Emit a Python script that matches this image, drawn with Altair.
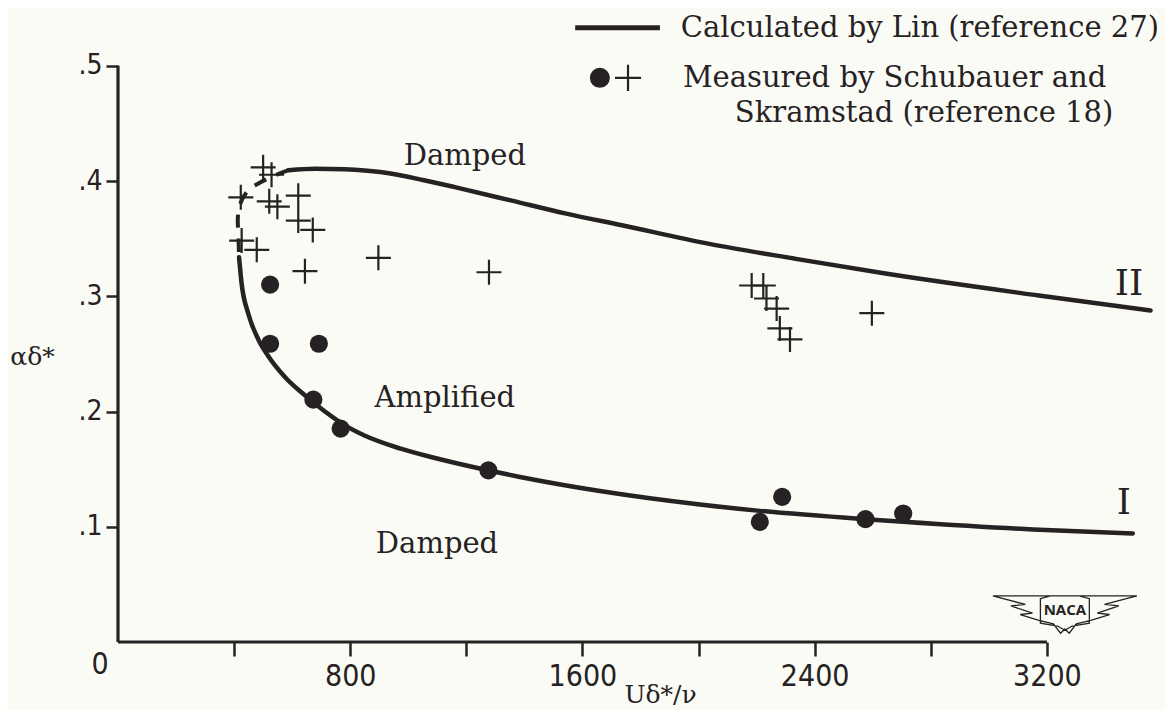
import altair as alt
import pandas as pd

INK = "#262223"
BG = "#fbfbf6"
SERIF = "DejaVu Serif"
NUMF = "DejaVu Sans Condensed, DejaVu Sans, sans-serif"

# ---- data ----
# Curve II (upper neutral branch, Lin)
c2_x = [587, 680, 780, 903, 1050, 1164, 1357, 1540, 1740, 2037, 2335, 2649, 3172, 3557]
c2_y = [0.4095, 0.4108, 0.4102, 0.4078, 0.4010, 0.3945, 0.3830, 0.3720, 0.3614, 0.3455, 0.3325, 0.3195,
        0.3007, 0.2877]
# dashed connection between the branches
cd_x = [587, 530, 482, 448, 424, 413, 415, 417]
cd_y = [0.4095, 0.4038, 0.3977, 0.3917, 0.3821, 0.3692, 0.3519, 0.3339]
# Curve I (lower neutral branch)
c1_x = [417, 426, 449, 483, 518, 575, 644, 713, 782, 851, 971, 1099, 1274, 1385, 1660, 2005, 2211, 2575, 2705,
        3152, 3496]
c1_y = [0.3339, 0.3108, 0.2848, 0.2628, 0.2480, 0.2300, 0.2140, 0.2000, 0.1880, 0.1790, 0.1680, 0.1592, 0.1490,
        0.1432, 0.1310, 0.1193, 0.1138, 0.1066, 0.1044, 0.0977, 0.0942]
# measured: filled circles
dot_x = [524, 524, 692, 673, 767, 1276, 2211, 2288, 2575, 2705]
dot_y = [0.3102, 0.2588, 0.2588, 0.2103, 0.1852, 0.1490, 0.1042, 0.1259, 0.1066, 0.1115]
# measured: crosses
cross_x = [500, 529, 423, 521, 549, 621, 621, 671, 426, 478, 644, 897, 1278,
           2183, 2223, 2234, 2269, 2280, 2315, 2597]
cross_y = [0.4119, 0.4055, 0.3859, 0.3824, 0.3778, 0.3873, 0.3657, 0.3576, 0.3484, 0.3403, 0.3218, 0.3334, 0.3209,
           0.3094, 0.3094, 0.2981, 0.2894, 0.2721, 0.2626, 0.2854]

x_ticks = [400, 800, 1200, 1600, 2000, 2400, 2800, 3200]
y_ticks = [0.1, 0.2, 0.3, 0.4, 0.5]

# annotations
ann_text = ["Damped", "Amplified", "Damped"]
ann_x = [1195, 1126, 1099]
ann_y = [0.4220, 0.2114, 0.0849]
rom_text = ["I", "II"]
rom_x = [3465, 3483]
rom_y = [0.1205, 0.3110]

# legend
leg_line_x = [1575]
leg_line_x2 = [1867]
leg_line_y = [0.533]
leg_text = ["Calculated by Lin (reference 27)", "Measured by Schubauer and", "Skramstad (reference 18)"]
leg_text_x = [1939, 1946, 2125]
leg_text_y = [0.533, 0.4896, 0.4593]
leg_dot_x, leg_dot_y = [1660], [0.4896]
leg_cross_x, leg_cross_y = [1757], [0.4896]

logo_x, logo_y = [3262], [0.0251]
logo_text_y = [0.0277]

# ---- scales / axes ----
xs = alt.Scale(domain=[0, 3600], nice=False, zero=False)
ys = alt.Scale(domain=[0, 0.545], nice=False, zero=False)

xaxis = alt.Axis(
    values=x_ticks, format="d",
    labelExpr="datum.value % 800 === 0 ? datum.label : ''",
    domain=False, grid=False, tickSize=14, tickWidth=2.5, tickColor=INK,
    labelFont=NUMF, labelFontSize=30, labelColor=INK, labelPadding=5,
    title="Uδ*/ν", titleFont=SERIF, titleFontSize=25, titleFontWeight="normal",
    titleColor=INK, titleX=542, titleY=60, titleBaseline="alphabetic", titleAlign="center",
)
yaxis = alt.Axis(
    values=y_ticks, format=".1f",
    labelExpr="replace(datum.label, '0.', '.')",
    domain=False, grid=False, tickSize=12, tickWidth=2.5, tickColor=INK,
    labelFont=NUMF, labelFontSize=28, labelColor=INK, labelPadding=4,
    title="αδ*", titleFont=SERIF, titleFontSize=25, titleFontWeight="normal",
    titleColor=INK, titleAngle=0, titleX=-86, titleY=342, titleBaseline="middle", titleAlign="center",
)


def X(f):
    return alt.X(f, type="quantitative", scale=xs, axis=xaxis)


def Y(f):
    return alt.Y(f, type="quantitative", scale=ys, axis=yaxis)


PLUS = "M-1,0H1M0,-1V1"
WING = ("M-1,-0.24L1,-0.24L0.55,-0.12L0.75,-0.1L0.45,0L0.62,0.02L0.36,0.1L0.16,0.15L0.06,0.28L0,0.22"
        "L-0.06,0.28L-0.16,0.15L-0.36,0.1L-0.62,0.02L-0.45,0L-0.75,-0.1L-0.55,-0.12Z"
        "M-0.34,-0.2L-0.2,-0.24L0.2,-0.24L0.34,-0.2L0.34,0.14L0.1,0.18L0,0.24L-0.1,0.18L-0.34,0.14Z")

# ---- frames ----
axes_df = pd.DataFrame({"x": [0, 0], "x2": [3200, 0], "y": [0, 0], "y2": [0, 0.5]})
curves_df = pd.concat([
    pd.DataFrame({"x": c1_x, "y": c1_y, "s": "I", "i": range(len(c1_x))}),
    pd.DataFrame({"x": c2_x, "y": c2_y, "s": "II", "i": range(len(c2_x))}),
])
dash_df = pd.DataFrame({"x": cd_x, "y": cd_y, "i": range(len(cd_x))})
dots_df = pd.DataFrame({"x": dot_x, "y": dot_y})
cross_df = pd.DataFrame({"x": cross_x, "y": cross_y})
ann_df = pd.DataFrame({"x": ann_x, "y": ann_y, "t": ann_text})
rom_df = pd.DataFrame({"x": rom_x, "y": rom_y, "t": rom_text})
legline_df = pd.DataFrame({"x": leg_line_x, "x2": leg_line_x2, "y": leg_line_y})
legtext_df = pd.DataFrame({"x": leg_text_x, "y": leg_text_y, "t": leg_text})
legdot_df = pd.DataFrame({"x": leg_dot_x, "y": leg_dot_y})
legcross_df = pd.DataFrame({"x": leg_cross_x, "y": leg_cross_y})
zero_df = pd.DataFrame({"x": [0], "y": [0], "t": ["0"]})
logo_df = pd.DataFrame({"x": logo_x, "y": logo_y})
logot_df = pd.DataFrame({"x": logo_x, "y": logo_text_y, "t": ["NACA"]})

axis_lines = alt.Chart(axes_df).mark_rule(color=INK, strokeWidth=3.2).encode(
    x=X("x"), x2="x2", y=Y("y"), y2="y2")

curves = alt.Chart(curves_df).mark_line(color=INK, strokeWidth=4.5, interpolate="monotone",
                                        strokeCap="round").encode(
    x=X("x"), y=Y("y"), detail="s:N", order="i:Q")

dashed = alt.Chart(dash_df).mark_line(color=INK, strokeWidth=4, interpolate="cardinal",
                                      strokeDash=[13, 11]).encode(
    x=X("x"), y=Y("y"), order="i:Q")

dots = alt.Chart(dots_df).mark_point(shape="circle", filled=True, size=330, color=INK, opacity=1).encode(
    x=X("x"), y=Y("y"))

crosses = alt.Chart(cross_df).mark_point(shape=PLUS, size=625, color=INK, strokeWidth=2.2,
                                         filled=False, opacity=1).encode(
    x=X("x"), y=Y("y"))

ann = alt.Chart(ann_df).mark_text(font=SERIF, fontSize=29, color=INK, align="center",
                                  baseline="middle").encode(x=X("x"), y=Y("y"), text="t:N")

rom = alt.Chart(rom_df).mark_text(font=SERIF, fontSize=36, color=INK, align="center",
                                  baseline="middle").encode(x=X("x"), y=Y("y"), text="t:N")

legline = alt.Chart(legline_df).mark_rule(color=INK, strokeWidth=5).encode(
    x=X("x"), x2="x2", y=Y("y"))

legtext = alt.Chart(legtext_df).mark_text(font=SERIF, fontSize=29, color=INK, align="left",
                                          baseline="middle").encode(x=X("x"), y=Y("y"), text="t:N")

legdot = alt.Chart(legdot_df).mark_point(shape="circle", filled=True, size=400, color=INK, opacity=1).encode(
    x=X("x"), y=Y("y"))

legcross = alt.Chart(legcross_df).mark_point(shape=PLUS, size=680, color=INK, strokeWidth=2.2,
                                             filled=False, opacity=1).encode(x=X("x"), y=Y("y"))

zero = alt.Chart(zero_df).mark_text(font=NUMF, fontSize=30, color=INK, align="center",
                                    baseline="middle", dx=-18, dy=23).encode(x=X("x"), y=Y("y"), text="t:N")

logo = alt.Chart(logo_df).mark_point(shape=WING, size=20736, color=INK, strokeWidth=1.3,
                                     filled=False, opacity=1).encode(x=X("x"), y=Y("y"))
logot = alt.Chart(logot_df).mark_text(font="Open Sans", fontWeight="bold", fontSize=15, color=INK,
                                      align="center", baseline="middle").encode(x=X("x"), y=Y("y"), text="t:N")

chart = alt.layer(
    axis_lines, curves, dashed, dots, crosses, ann, rom,
    legline, legtext, legdot, legcross, zero, logo, logot,
).properties(
    width=1045, height=628,
    autosize=alt.AutoSizeParams(type="none"),
    padding={"left": 110, "top": 6, "right": 2, "bottom": 68},
    background=BG,
).configure_view(stroke=None)

chart.save("out.html", embed_options={"renderer": "svg", "actions": False})
